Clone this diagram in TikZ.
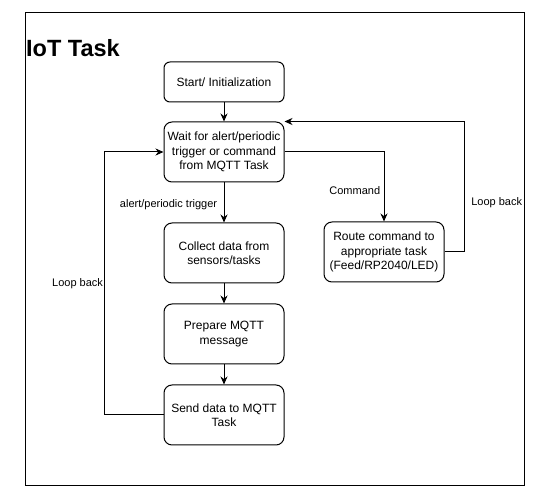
\documentclass[tikz,border=0pt]{standalone}
\usepackage{fontspec}
\setmainfont{Liberation Sans}
\usepackage{tikz}
\usetikzlibrary{positioning, shapes, arrows.meta, calc}

\tikzset{
  stepbox/.style={rectangle, rounded corners=8pt, draw, line width=1pt, minimum width=120pt,
    minimum height=60pt, align=center, font=\fontsize{12}{14.4}\selectfont},
  flow/.style={-{Stealth[length=8pt,width=7pt]}, line width=1pt},
  edgetext/.style={font=\fontsize{11}{13}\selectfont}
}

\begin{document}
\begin{tikzpicture}[x=1pt, y=-1pt]
                  \useasboundingbox (0,0) rectangle (542,500);
                  % Frame
                  \draw[line width=1pt] (25,13) rectangle (524,486);
                  \node[anchor=base west, inner sep=0pt, font=\fontsize{23.5}{26}\selectfont\bfseries] (title) at (26,57) {IoT Task};

                  % Nodes
                  \node[stepbox, minimum height=40pt, rounded corners=6pt] (start) at (224,82) {Start/ Initialization};
                  \node[stepbox] (wait) at (224,152) {Wait for alert/periodic\\trigger or command\\from MQTT Task};
                  \node[stepbox] (collect) at (224,253) {Collect data from\\sensors/tasks};
                  \node[stepbox] (prepare) at (224,334) {Prepare MQTT\\message};
                  \node[stepbox] (send) at (224,415) {Send data to MQTT\\Task};
                  \node[stepbox] (route) at (384,252) {Route command to\\appropriate task\\(Feed/RP2040/LED)};

                  % Arrows
                  \draw[flow] (start) -- (wait);
                  \draw[flow] (wait) -- node[edgetext, left, xshift=-3pt, yshift=-2pt] (trigger) {alert/periodic trigger} (collect);
                  \draw[flow] (collect) -- (prepare);
                  \draw[flow] (prepare) -- (send);
                  \draw[flow] (wait.east) -| node[edgetext, pos=0.78, left] (command) {Command} (route.north);
                  \draw[flow] (route.east) -- ++(20,0) |- node[edgetext, pos=0.19, right, xshift=3pt] (loopright) {Loop back} (wait.north east);
                  \draw[flow] (send.west) -- ++(-59,0) |- node[edgetext, pos=0.25, left, inner sep=1pt] (loopleft) {Loop back} (wait.west);
              \end{tikzpicture}
\end{document}
